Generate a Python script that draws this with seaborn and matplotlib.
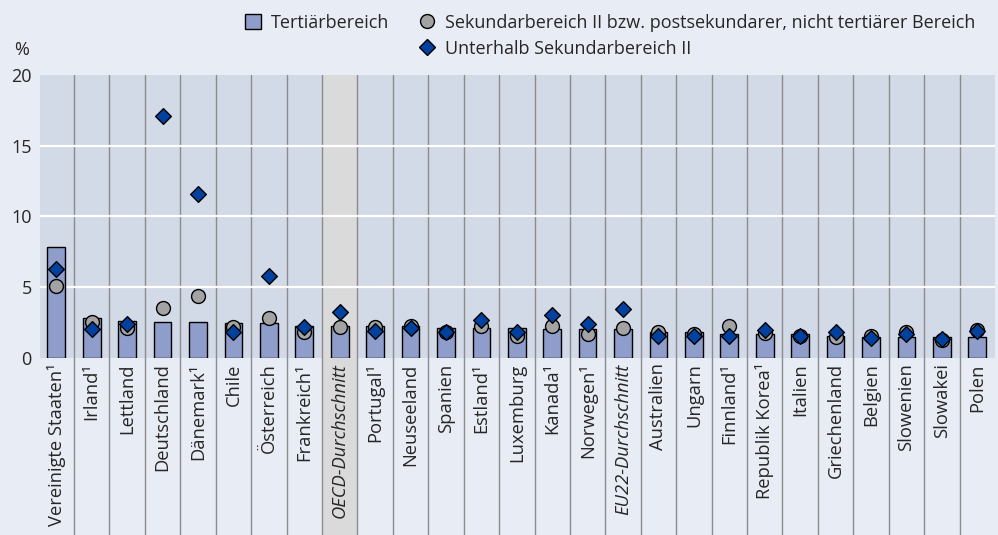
import matplotlib
matplotlib.use("Agg")
import matplotlib.pyplot as plt
from matplotlib.lines import Line2D
from matplotlib.patches import Patch
import numpy as np
import pandas as pd
import seaborn as sns

# Daten
laender = [
    "Vereinigte Staaten¹", "Irland¹", "Lettland", "Deutschland", "Dänemark¹",
    "Chile", "Österreich", "Frankreich¹", "OECD-Durchschnitt", "Portugal¹",
    "Neuseeland", "Spanien", "Estland¹", "Luxemburg", "Kanada¹", "Norwegen¹",
    "EU22-Durchschnitt", "Australien", "Ungarn", "Finnland¹", "Republik Korea¹",
    "Italien", "Griechenland", "Belgien", "Slowenien", "Slowakei", "Polen",
]
tertiaer = [7.8, 2.8, 2.6, 2.55, 2.55, 2.45, 2.45, 2.25, 2.25, 2.25,
            2.25, 2.1, 2.1, 2.1, 2.0, 2.0, 2.0, 1.85, 1.8, 1.65,
            1.65, 1.65, 1.55, 1.45, 1.45, 1.45, 1.45]
sekundar = [5.1, 2.5, 2.1, 3.55, 4.35, 2.2, 2.8, 1.85, 2.2, 2.2,
            2.25, 1.85, 2.25, 1.5, 2.25, 1.7, 2.1, 1.85, 1.7, 2.25,
            1.75, 1.55, 1.45, 1.55, 1.85, 1.25, 1.95]
unterhalb = [6.3, 2.0, 2.35, 17.1, 11.6, 1.8, 5.8, 2.2, 3.25, 1.9,
             2.1, 1.8, 2.7, 1.8, 3.0, 2.35, 3.45, 1.5, 1.55, 1.55,
             1.95, 1.5, 1.8, 1.4, 1.65, 1.3, 1.9]
durchschnitte = ["OECD-Durchschnitt", "EU22-Durchschnitt"]

df = pd.DataFrame({"land": laender, "tert": tertiaer,
                   "sek": sekundar, "unter": unterhalb})

fig_bg = "#E8ECF4"
ax_bg = "#D2D9E7"
bar_col = "#8E9DC9"
kreis_col = "#A3A3A3"
raute_col = "#0041A0"
linie_col = "#8C8C8C"

sns.set_theme(style="white")
plt.rcParams["font.family"] = ["Open Sans", "DejaVu Sans"]

fig = plt.figure(figsize=(9.98, 5.35), dpi=100, facecolor=fig_bg)
ax = fig.add_axes([40 / 998, 1 - 357.7 / 535, 955 / 998, 282.7 / 535])
ax.set_facecolor(ax_bg)

n = len(laender)
unten = -177.3 / 282.7  # Trennlinien bis zum unteren Bildrand

# Hintergrund OECD-Spalte
i_oecd = laender.index("OECD-Durchschnitt")
ax.axvspan(i_oecd - 0.5, i_oecd + 0.5, ymin=unten, ymax=1, color="#D9DAD9",
           clip_on=False, zorder=0, lw=0)

for i in range(n - 1):
    ax.axvline(i + 0.5, ymin=unten, ymax=1, color=linie_col, lw=1,
               clip_on=False, zorder=1)

for y in [5, 10, 15]:
    ax.axhline(y, color="white", lw=1.6, zorder=1)

sns.barplot(data=df, x="land", y="tert", color=bar_col, saturation=1,
            edgecolor="black", linewidth=1, width=0.5, ax=ax, zorder=2)
sns.stripplot(data=df, x="land", y="sek", jitter=False, color=kreis_col,
              size=10, linewidth=1, edgecolor="black", ax=ax, zorder=3)
sns.stripplot(data=df, x="land", y="unter", jitter=False, color=raute_col,
              marker="D", size=8, linewidth=1, edgecolor="black", ax=ax,
              zorder=4)

ax.set_xlim(-0.46, n - 0.5)
ax.set_ylim(0, 20)
ax.set_yticks([0, 5, 10, 15, 20])
ax.set_xlabel("")
ax.set_ylabel("")
ax.tick_params(axis="y", length=0, labelsize=13, pad=6)
ax.tick_params(axis="x", length=0, pad=4)
ax.set_xticks(range(n))
ax.set_xticklabels(laender, rotation=90, fontsize=13.2, va="top", ha="center")
for lbl in ax.get_xticklabels():
    if lbl.get_text() in durchschnitte:
        lbl.set_fontstyle("italic")
for s in ax.spines.values():
    s.set_visible(False)

fig.text(22 / 998, 1 - 50 / 535, "%", fontsize=13, ha="center", va="center")

handles = [
    Patch(facecolor=bar_col, edgecolor="black", lw=1),
    Line2D([], [], lw=0),
    Line2D([], [], marker="o", lw=0, markersize=10, markerfacecolor=kreis_col,
           markeredgecolor="black", markeredgewidth=1),
    Line2D([], [], marker="D", lw=0, markersize=8, markerfacecolor=raute_col,
           markeredgecolor="black", markeredgewidth=1),
]
labels = ["Tertiärbereich", "", "Sekundarbereich II bzw. postsekundarer, nicht tertiärer Bereich",
          "Unterhalb Sekundarbereich II"]
fig.legend(handles, labels, ncol=2, loc="upper left",
           bbox_to_anchor=(245 / 998, 1 - 14 / 535), frameon=False,
           fontsize=13.0, handlelength=0.9, handleheight=0.9,
           handletextpad=0.55, columnspacing=1.6, labelspacing=0.42,
           borderaxespad=0, borderpad=0)

fig.savefig("out.png", dpi=100, facecolor=fig_bg)
